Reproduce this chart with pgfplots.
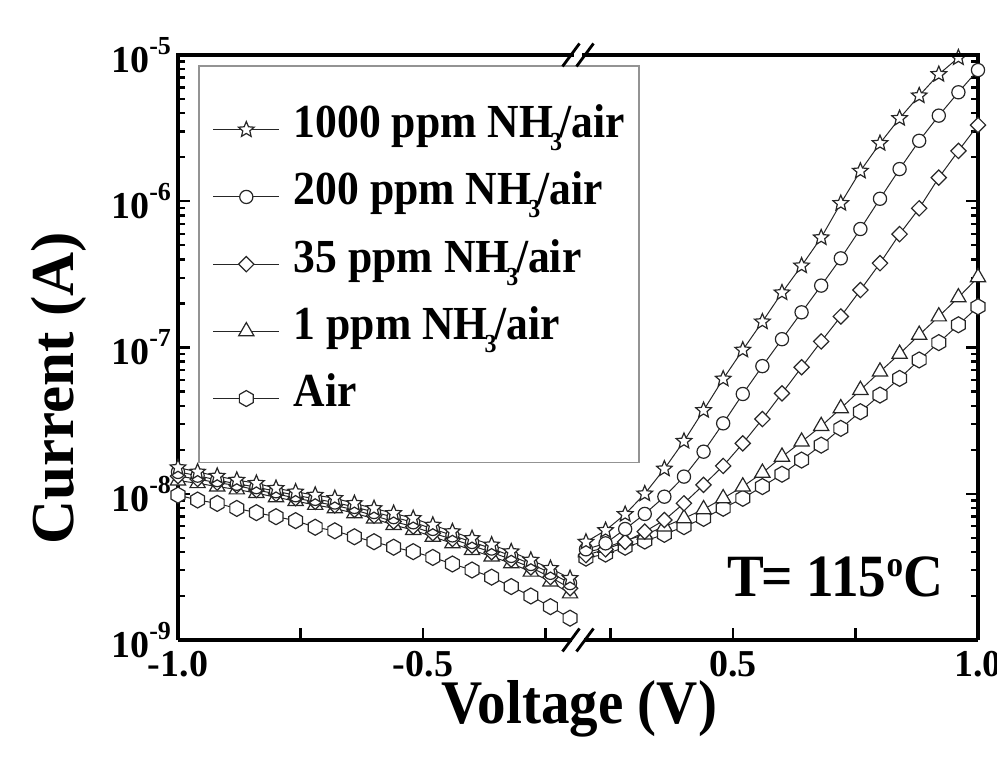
\documentclass[border=0pt]{standalone}
\usepackage{fontspec}
\setmainfont{Liberation Serif}
\newfontfamily\condfont{Liberation Serif}[FakeStretch=0.92]
\usepackage{pgfplots}
\pgfplotsset{compat=1.18}
\usetikzlibrary{plotmarks}

\pgfdeclareplotmark{ostar}{%
  \pgfpathmoveto{\pgfpointpolar{90}{\pgfplotmarksize}}%
  \pgfpathlineto{\pgfpointpolar{126}{0.45\pgfplotmarksize}}%
  \pgfpathlineto{\pgfpointpolar{162}{\pgfplotmarksize}}%
  \pgfpathlineto{\pgfpointpolar{198}{0.45\pgfplotmarksize}}%
  \pgfpathlineto{\pgfpointpolar{234}{\pgfplotmarksize}}%
  \pgfpathlineto{\pgfpointpolar{270}{0.45\pgfplotmarksize}}%
  \pgfpathlineto{\pgfpointpolar{306}{\pgfplotmarksize}}%
  \pgfpathlineto{\pgfpointpolar{342}{0.45\pgfplotmarksize}}%
  \pgfpathlineto{\pgfpointpolar{18}{\pgfplotmarksize}}%
  \pgfpathlineto{\pgfpointpolar{54}{0.45\pgfplotmarksize}}%
  \pgfpathclose
  \pgfusepathqfillstroke}
\pgfdeclareplotmark{hexa}{%
  \pgfpathmoveto{\pgfpointpolar{30}{\pgfplotmarksize}}%
  \pgfpathlineto{\pgfpointpolar{90}{\pgfplotmarksize}}%
  \pgfpathlineto{\pgfpointpolar{150}{\pgfplotmarksize}}%
  \pgfpathlineto{\pgfpointpolar{210}{\pgfplotmarksize}}%
  \pgfpathlineto{\pgfpointpolar{270}{\pgfplotmarksize}}%
  \pgfpathlineto{\pgfpointpolar{330}{\pgfplotmarksize}}%
  \pgfpathclose
  \pgfusepathqfillstroke}

\newcommand\subthree{\kern-1.5pt\raisebox{-6.5pt}{\fontsize{13}{13}\selectfont 3}\kern-1.2pt}
\newcommand\sexp[1]{\raisebox{9pt}{\fontsize{13}{13}\selectfont #1}}

\begin{document}
\begin{tikzpicture}
% ---------------- left (negative bias) ----------------
\begin{axis}[name=L, at={(0pt,0pt)}, anchor=south west,
  scale only axis, width=197pt, height=292.5pt,
  ymode=log, ymin=1e-9, ymax=1e-5,
  xmin=-1, xmax=-0.196,
  axis x line*=bottom, axis y line*=left, tick align=inside,
  axis line style={line width=1.6pt, black},
  tick style={line width=1.2pt, black},
  major tick length=6pt, minor tick length=3.5pt,
  ytick={1e-9,1e-8,1e-7,1e-6,1e-5},
  minor ytick={2e-9,3e-9,4e-9,5e-9,6e-9,7e-9,8e-9,9e-9,
               2e-8,3e-8,4e-8,5e-8,6e-8,7e-8,8e-8,9e-8,
               2e-7,3e-7,4e-7,5e-7,6e-7,7e-7,8e-7,9e-7,
               2e-6,3e-6,4e-6,5e-6,6e-6,7e-6,8e-6,9e-6},
  tick label style={font=\fontsize{19}{20}\selectfont\bfseries},
  xticklabel style={yshift=-2pt},
  xtick={-1,-0.75,-0.5,-0.25}, xticklabels={-1.0,,-0.5,},
  yticklabels={10\sexp{-9},10\sexp{-8},10\sexp{-7},10\sexp{-6},10\sexp{-5}},
  reverse legend, legend cell align=left,
  legend image code/.code={\draw[mark repeat=2, mark phase=2, #1]
     plot coordinates {(0pt,0pt) (16.5pt,0pt) (33pt,0pt)};},
  legend style={at={(0.0508,0.983)}, anchor=north west,
    draw=gray!85, line width=0.8pt, fill=white,
    inner xsep=7pt, inner ysep=19pt, row sep=7.6pt, column sep=7pt,
    nodes={inner sep=0pt, text height=17pt, text depth=9pt,
      font=\condfont\fontsize{23.7}{24}\selectfont\bfseries}},
]
\addplot[black!85, line width=0.5pt, mark=hexa, mark size=4pt, mark options={solid, fill=white, line width=0.6pt}] coordinates {
(-1.00,9.79e-9) (-0.96,9.06e-9) (-0.92,8.59e-9) (-0.88,7.94e-9) (-0.84,7.43e-9)
(-0.80,6.97e-9) (-0.76,6.55e-9) (-0.72,5.90e-9) (-0.68,5.58e-9) (-0.64,5.08e-9)
(-0.60,4.70e-9) (-0.56,4.31e-9) (-0.52,4.02e-9) (-0.48,3.67e-9) (-0.44,3.31e-9)
(-0.40,3.01e-9) (-0.36,2.69e-9) (-0.32,2.32e-9) (-0.28,2.00e-9) (-0.24,1.69e-9)
(-0.20,1.41e-9)};
\addlegendentry{Air}
\addplot[black!85, line width=0.5pt, mark=triangle*, mark size=4.4pt, mark options={solid, fill=white, line width=0.6pt}] coordinates {
(-1.00,1.23e-8) (-0.96,1.18e-8) (-0.92,1.12e-8) (-0.88,1.07e-8) (-0.84,1.01e-8)
(-0.80,9.46e-9) (-0.76,8.91e-9) (-0.72,8.38e-9) (-0.68,7.94e-9) (-0.64,7.35e-9)
(-0.60,6.76e-9) (-0.56,6.11e-9) (-0.52,5.65e-9) (-0.48,5.08e-9) (-0.44,4.58e-9)
(-0.40,4.12e-9) (-0.36,3.72e-9) (-0.32,3.34e-9) (-0.28,2.93e-9) (-0.24,2.51e-9)
(-0.20,2.08e-9)};
\addlegendentry{1 ppm NH\subthree/air}
\addplot[black!85, line width=0.5pt, mark=square*, mark size=2.7pt, mark options={solid, rotate=45, fill=white, line width=0.6pt}] coordinates {
(-1.00,1.32e-8) (-0.96,1.26e-8) (-0.92,1.19e-8) (-0.88,1.14e-8) (-0.84,1.06e-8)
(-0.80,1.00e-8) (-0.76,9.33e-9) (-0.72,8.81e-9) (-0.68,8.32e-9) (-0.64,7.76e-9)
(-0.60,7.08e-9) (-0.56,6.46e-9) (-0.52,5.96e-9) (-0.48,5.37e-9) (-0.44,4.90e-9)
(-0.40,4.42e-9) (-0.36,3.98e-9) (-0.32,3.55e-9) (-0.28,3.13e-9) (-0.24,2.69e-9)
(-0.20,2.26e-9)};
\addlegendentry{35 ppm NH\subthree/air}
\addplot[black!85, line width=0.5pt, mark=*, mark size=3.3pt, mark options={solid, fill=white, line width=0.6pt}] coordinates {
(-1.00,1.41e-8) (-0.96,1.33e-8) (-0.92,1.24e-8) (-0.88,1.17e-8) (-0.84,1.11e-8)
(-0.80,1.04e-8) (-0.76,9.77e-9) (-0.72,9.23e-9) (-0.68,8.71e-9) (-0.64,8.13e-9)
(-0.60,7.50e-9) (-0.56,6.92e-9) (-0.52,6.38e-9) (-0.48,5.75e-9) (-0.44,5.19e-9)
(-0.40,4.68e-9) (-0.36,4.22e-9) (-0.32,3.76e-9) (-0.28,3.31e-9) (-0.24,2.88e-9)
(-0.20,2.45e-9)};
\addlegendentry{200 ppm NH\subthree/air}
\addplot[black!85, line width=0.5pt, mark=ostar, mark size=4.1pt, mark options={solid, fill=white, line width=0.6pt}] coordinates {
(-1.00,1.51e-8) (-0.96,1.41e-8) (-0.92,1.32e-8) (-0.88,1.24e-8) (-0.84,1.18e-8)
(-0.80,1.09e-8) (-0.76,1.03e-8) (-0.72,9.79e-9) (-0.68,9.31e-9) (-0.64,8.59e-9)
(-0.60,7.94e-9) (-0.56,7.35e-9) (-0.52,6.79e-9) (-0.48,6.11e-9) (-0.44,5.51e-9)
(-0.40,4.95e-9) (-0.36,4.47e-9) (-0.32,4.02e-9) (-0.28,3.52e-9) (-0.24,3.09e-9)
(-0.20,2.64e-9)};
\addlegendentry{1000 ppm NH\subthree/air}
\end{axis}
% ---------------- right (positive bias) ----------------
\begin{axis}[name=R, at={(203pt,0pt)}, anchor=south west,
  scale only axis, width=197pt, height=292.5pt,
  ymode=log, ymin=1e-9, ymax=1e-5,
  xmin=0.196, xmax=1,
  axis x line*=bottom, axis y line*=right, tick align=inside,
  axis line style={line width=1.6pt, black},
  tick style={line width=1.2pt, black},
  major tick length=6pt, minor tick length=3.5pt,
  ytick={1e-9,1e-8,1e-7,1e-6,1e-5},
  minor ytick={2e-9,3e-9,4e-9,5e-9,6e-9,7e-9,8e-9,9e-9,
               2e-8,3e-8,4e-8,5e-8,6e-8,7e-8,8e-8,9e-8,
               2e-7,3e-7,4e-7,5e-7,6e-7,7e-7,8e-7,9e-7,
               2e-6,3e-6,4e-6,5e-6,6e-6,7e-6,8e-6,9e-6},
  tick label style={font=\fontsize{19}{20}\selectfont\bfseries},
  xticklabel style={yshift=-2pt},
  xtick={0.25,0.5,0.75,1}, xticklabels={,0.5,,1.0},
  yticklabels={},
]
\addplot[black!85, line width=0.5pt, mark=hexa, mark size=4pt, mark options={solid, fill=white, line width=0.6pt}] coordinates {
(0.20,3.63e-9) (0.24,3.87e-9) (0.28,4.31e-9) (0.32,4.75e-9) (0.36,5.28e-9)
(0.40,5.96e-9) (0.44,6.79e-9) (0.48,7.96e-9) (0.52,9.31e-9) (0.56,1.12e-8)
(0.60,1.36e-8) (0.64,1.70e-8) (0.68,2.15e-8) (0.72,2.80e-8) (0.76,3.64e-8)
(0.80,4.73e-8) (0.84,6.15e-8) (0.88,8.22e-8) (0.92,1.08e-7) (0.96,1.43e-7)
(1.00,1.90e-7)};
\addplot[black!85, line width=0.5pt, mark=triangle*, mark size=4.4pt, mark options={solid, fill=white, line width=0.6pt}] coordinates {
(0.20,3.98e-9) (0.24,4.27e-9) (0.28,4.79e-9) (0.32,5.25e-9) (0.36,5.96e-9)
(0.40,6.79e-9) (0.44,7.83e-9) (0.48,9.31e-9) (0.52,1.12e-8) (0.56,1.39e-8)
(0.60,1.79e-8) (0.64,2.27e-8) (0.68,2.90e-8) (0.72,3.84e-8) (0.76,5.12e-8)
(0.80,6.84e-8) (0.84,9.04e-8) (0.88,1.22e-7) (0.92,1.63e-7) (0.96,2.20e-7)
(1.00,3.02e-7)};
\addplot[black!85, line width=0.5pt, mark=square*, mark size=2.7pt, mark options={solid, rotate=45, fill=white, line width=0.6pt}] coordinates {
(0.20,3.80e-9) (0.24,4.17e-9) (0.28,4.68e-9) (0.32,5.51e-9) (0.36,6.61e-9)
(0.40,8.61e-9) (0.44,1.15e-8) (0.48,1.55e-8) (0.52,2.21e-8) (0.56,3.24e-8)
(0.60,4.86e-8) (0.64,7.33e-8) (0.68,1.10e-7) (0.72,1.63e-7) (0.76,2.47e-7)
(0.80,3.77e-7) (0.84,5.96e-7) (0.88,8.95e-7) (0.92,1.45e-6) (0.96,2.21e-6)
(1.00,3.32e-6)};
\addplot[black!85, line width=0.5pt, mark=*, mark size=3.3pt, mark options={solid, fill=white, line width=0.6pt}] coordinates {
(0.20,4.17e-9) (0.24,4.58e-9) (0.28,5.74e-9) (0.32,7.28e-9) (0.36,9.55e-9)
(0.40,1.31e-8) (0.44,1.94e-8) (0.48,3.03e-8) (0.52,4.81e-8) (0.56,7.46e-8)
(0.60,1.14e-7) (0.64,1.74e-7) (0.68,2.65e-7) (0.72,4.07e-7) (0.76,6.46e-7)
(0.80,1.04e-6) (0.84,1.66e-6) (0.88,2.59e-6) (0.92,3.85e-6) (0.96,5.56e-6)
(1.00,7.89e-6)};
\addplot[black!85, line width=0.5pt, mark=ostar, mark size=4.1pt, mark options={solid, fill=white, line width=0.6pt}] coordinates {
(0.20,4.68e-9) (0.24,5.62e-9) (0.28,7.24e-9) (0.32,1.00e-8) (0.36,1.48e-8)
(0.40,2.29e-8) (0.44,3.72e-8) (0.48,6.10e-8) (0.52,9.62e-8) (0.56,1.50e-7)
(0.60,2.37e-7) (0.64,3.62e-7) (0.68,5.64e-7) (0.72,9.68e-7) (0.76,1.61e-6)
(0.80,2.49e-6) (0.84,3.69e-6) (0.88,5.27e-6) (0.92,7.38e-6) (0.96,9.59e-6)
(1.00,1.20e-5)};
\end{axis}
% top spines
\draw[line width=1.6pt, line cap=rect] (L.north west) -- (L.north east);
\draw[line width=1.6pt, line cap=rect] (R.north west) -- (R.north east);
% axis break marks
\draw[line width=1.4pt] (192.25pt,-5.75pt) -- (200.75pt,5.75pt);
\draw[line width=1.4pt] (199.25pt,-5.75pt) -- (207.75pt,5.75pt);
\draw[line width=1.4pt] (192.25pt,286.75pt) -- (200.75pt,298.25pt);
\draw[line width=1.4pt] (199.25pt,286.75pt) -- (207.75pt,298.25pt);
% labels
\node[anchor=base, font=\condfont\fontsize{31}{31}\selectfont\bfseries] at (200.75pt,-42pt) {Voltage (V)};
\node[rotate=90, anchor=base, font=\fontsize{30.5}{31}\selectfont\bfseries] at (-52pt,126pt) {Current (A)};
\node[anchor=base east, font=\condfont\fontsize{30}{30}\selectfont\bfseries] at (386pt,21.5pt) {T\kern-1.5pt= 115\raisebox{10pt}{\fontsize{18}{18}\selectfont o}C};
\pgfresetboundingbox
\useasboundingbox (-89pt,-59.5pt) rectangle (409.5pt,320pt);
\end{tikzpicture}
\end{document}
